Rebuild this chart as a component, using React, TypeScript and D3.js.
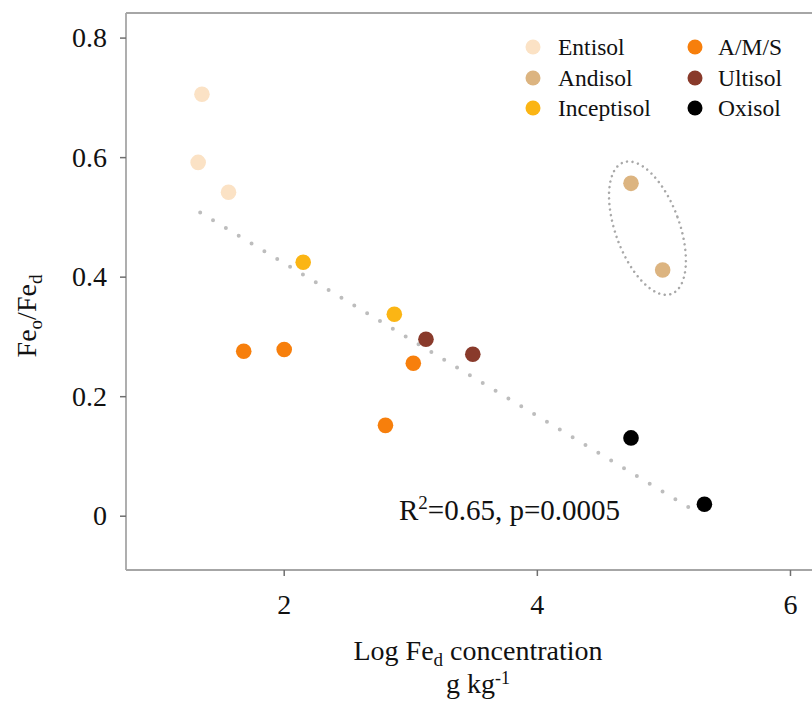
import React from "react";
import * as d3 from "d3";

// Soil order groups and their marker colours
const categories = ["Entisol", "Andisol", "Inceptisol", "A/M/S", "Ultisol", "Oxisol"];
const categoryColors = ["#FBE2C5", "#DCB480", "#FBB514", "#F77F0C", "#893A2B", "#000000"];

// Log Fed concentration (x) and Feo/Fed ratio (y) per soil order
const entisolX = [1.35, 1.32, 1.56];
const entisolY = [0.706, 0.592, 0.542];
const andisolX = [4.74, 4.99];
const andisolY = [0.557, 0.412];
const inceptisolX = [2.15, 2.87];
const inceptisolY = [0.425, 0.338];
const amsX = [1.68, 2.0, 3.02, 2.8];
const amsY = [0.276, 0.279, 0.256, 0.152];
const ultisolX = [3.12, 3.49];
const ultisolY = [0.296, 0.271];
const oxisolX = [4.74, 5.32];
const oxisolY = [0.131, 0.02];

const seriesX = [entisolX, andisolX, inceptisolX, amsX, ultisolX, oxisolX];
const seriesY = [entisolY, andisolY, inceptisolY, amsY, ultisolY, oxisolY];

// Fitted regression segment endpoints [x, y]
const trendStart = [1.336, 0.508];
const trendEnd = [5.265, 0.006];

// Highlighted Andisol group (centre in data units)
const groupCenter = [4.87, 0.482];

const xTickValues = [2, 4, 6];
const xTickLabels = ["2", "4", "6"];
const yTickValues = [0, 0.2, 0.4, 0.6, 0.8];
const yTickLabels = ["0", "0.2", "0.4", "0.6", "0.8"];

const W = 812;
const H = 711;
const left = 126;
const right = 812;
const top = 13;
const bottom = 570;
const FONT = "'Liberation Serif', 'Times New Roman', serif";
const AXIS = "#A6A6A6";
const TICK = "#6F6F6F";

export default function App() {
  const x = d3.scaleLinear().domain([0.75, 6.17]).range([left, right]);
  const y = d3.scaleLinear().domain([-0.09, 0.842]).range([bottom, top]);

  const trend = d3.line<number[]>()
    .x((d) => x(d[0]))
    .y((d) => y(d[1]))([trendStart, trendEnd]) || "";

  const points = categories.flatMap((c, i) =>
    seriesX[i].map((vx, j) => ({ c, i, vx, vy: seriesY[i][j] }))
  );

  const legendCols = [
    { cx: 533, tx: 558 },
    { cx: 695, tx: 718 },
  ];
  const legendRows = [47, 78, 108];

  return (
    <svg
      width={W}
      height={H}
      style={{ position: "absolute", left: 0, top: 0, background: "#fff" }}
      fontFamily={FONT}
    >
      <rect x={0} y={0} width={W} height={H} fill="#fff" />

      {/* frame */}
      <line x1={left} y1={top} x2={right} y2={top} stroke={AXIS} strokeWidth={1.8} />
      <line x1={left} y1={top} x2={left} y2={bottom} stroke={AXIS} strokeWidth={1.8} />
      <line x1={left} y1={bottom} x2={right} y2={bottom} stroke={AXIS} strokeWidth={1.8} />

      {/* y axis */}
      {yTickValues.map((v, k) => (
        <g key={"y" + k}>
          <line x1={left - 6} x2={left} y1={y(v)} y2={y(v)} stroke={TICK} strokeWidth={1.5} />
          <text x={107} y={y(v) + 9} fontSize={28} textAnchor="end" fill="#111">
            {yTickLabels[k]}
          </text>
        </g>
      ))}

      {/* x axis */}
      {xTickValues.map((v, k) => (
        <g key={"x" + k}>
          <line x1={x(v)} x2={x(v)} y1={bottom} y2={bottom + 6} stroke={TICK} strokeWidth={1.5} />
          <text x={x(v)} y={614} fontSize={28} textAnchor="middle" fill="#111">
            {xTickLabels[k]}
          </text>
        </g>
      ))}

      {/* axis titles */}
      <text x={478} y={660} fontSize={28} textAnchor="middle" fill="#111">
        Log Fe<tspan dy={6} fontSize={19}>d</tspan>
        <tspan dy={-6}> concentration</tspan>
      </text>
      <text x={478} y={693} fontSize={28} textAnchor="middle" fill="#111">
        g kg<tspan dy={-9} fontSize={18}>-1</tspan>
      </text>
      <text
        transform={`translate(36, 316) rotate(-90)`}
        fontSize={28}
        textAnchor="middle"
        fill="#111"
      >
        Fe<tspan dy={6} fontSize={19}>o</tspan>
        <tspan dy={-6}>/Fe</tspan>
        <tspan dy={6} fontSize={19}>d</tspan>
      </text>

      {/* regression line */}
      <path
        d={trend}
        fill="none"
        stroke="#BDBDBD"
        strokeWidth={4}
        strokeLinecap="round"
        strokeDasharray="0 15"
      />

      {/* Andisol group outline */}
      <ellipse
        cx={0}
        cy={0}
        rx={32}
        ry={70}
        transform={`translate(${x(groupCenter[0])}, ${y(groupCenter[1])}) rotate(-20)`}
        fill="none"
        stroke="#A8A8A8"
        strokeWidth={2.5}
        strokeLinecap="round"
        strokeDasharray="0 5.6"
      />

      {/* points */}
      {points.map((p, k) => (
        <circle key={"p" + k} cx={x(p.vx)} cy={y(p.vy)} r={7.8} fill={categoryColors[p.i]} />
      ))}

      {/* fit statistics */}
      <text x={399} y={520} fontSize={29} fill="#111">
        R<tspan dy={-11} fontSize={19}>2</tspan>
        <tspan dy={11}>=0.65, p=0.0005</tspan>
      </text>

      {/* legend */}
      {categories.map((c, i) => {
        const col = legendCols[Math.floor(i / 3)];
        const cy = legendRows[i % 3];
        return (
          <g key={"l" + i}>
            <circle cx={col.cx} cy={cy} r={7.5} fill={categoryColors[i]} />
            <text x={col.tx} y={cy + 7.5} fontSize={23.5} fill="#111">
              {c}
            </text>
          </g>
        );
      })}
    </svg>
  );
}
